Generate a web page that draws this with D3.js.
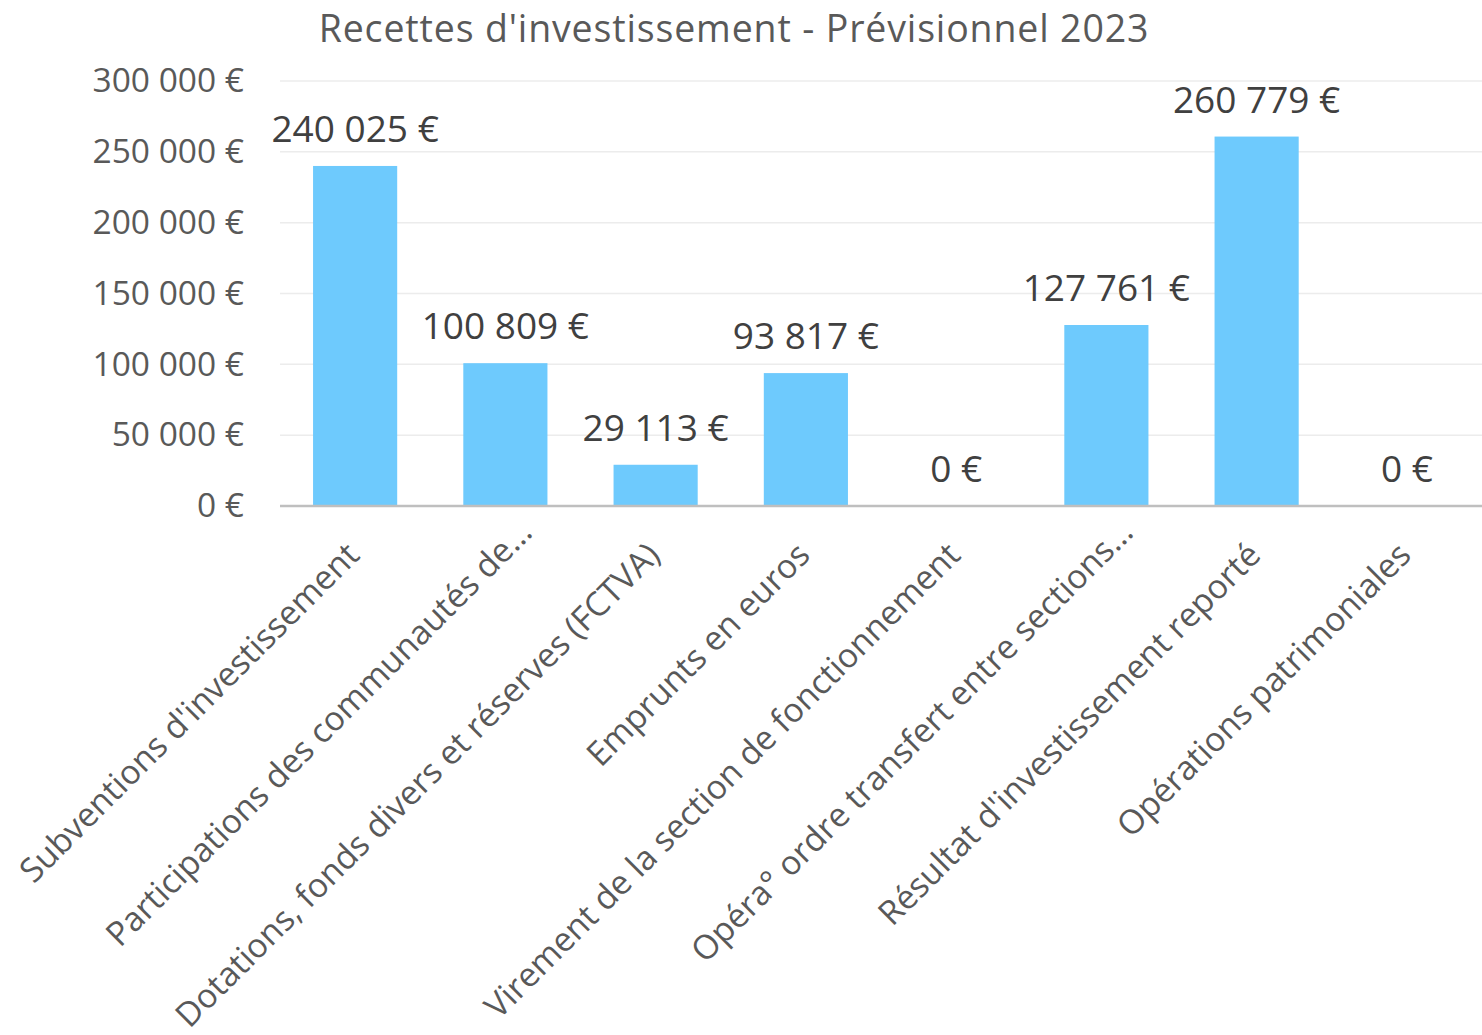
<!DOCTYPE html>
<html>
<head>
<meta charset="utf-8">
<script src="https://cdn.jsdelivr.net/npm/d3@7"></script>
<style>
  body { margin: 0; background: #fff; }
  text { font-family: "Open Sans", sans-serif; }
</style>
</head>
<body>
<div id="chart"></div>
<script>
// Chart data
var categories = [
  "Subventions d'investissement",
  "Participations des communautés de…",
  "Dotations, fonds divers et réserves (FCTVA)",
  "Emprunts en euros",
  "Virement de la section de fonctionnement",
  "Opéra° ordre transfert entre sections…",
  "Résultat d'investissement reporté",
  "Opérations patrimoniales"
];
var values = [240025, 100809, 29113, 93817, 0, 127761, 260779, 0];
var yTicks = [0, 50000, 100000, 150000, 200000, 250000, 300000];
var title = "Recettes d'investissement - Prévisionnel 2023";

// SVG area
var svgWidth = 1482;
var svgHeight = 1035;

var chartMargin = { top: 81, right: 0, bottom: 529, left: 280 };
var chartWidth = svgWidth - chartMargin.left - chartMargin.right;
var chartHeight = svgHeight - chartMargin.top - chartMargin.bottom;

var svg = d3.select("#chart")
  .append("svg")
  .attr("width", svgWidth)
  .attr("height", svgHeight);

var chartGroup = svg.append("g")
  .attr("transform", `translate(${chartMargin.left}, ${chartMargin.top})`);

// euro format with space thousands
var fmt = function(v) {
  return d3.format(",")(v).replace(/,/g, " ") + " €";
};

var xBandScale = d3.scaleBand()
  .domain(categories)
  .range([0, chartWidth])
  .paddingInner(0.44)
  .paddingOuter(0.22);

var yLinearScale = d3.scaleLinear()
  .domain([0, 300000])
  .range([chartHeight, 0]);

// gridlines
chartGroup.append("g")
  .selectAll("line")
  .data(yTicks.slice(1))
  .enter()
  .append("line")
  .attr("x1", 0)
  .attr("x2", chartWidth)
  .attr("y1", d => yLinearScale(d))
  .attr("y2", d => yLinearScale(d))
  .attr("stroke", "#ececec")
  .attr("stroke-width", 1.5);

// left axis (labels only)
var leftAxis = d3.axisLeft(yLinearScale)
  .tickValues(yTicks)
  .tickSize(0)
  .tickPadding(36)
  .tickFormat(fmt);

var yAxisGroup = chartGroup.append("g").call(leftAxis);
yAxisGroup.select(".domain").remove();
yAxisGroup.selectAll("text")
  .attr("font-size", "33.5px")
  .attr("fill", "#595959")
  .style("font-family", "'Open Sans', sans-serif");

// bars
chartGroup.selectAll(".bar")
  .data(values)
  .enter()
  .append("rect")
  .attr("class", "bar")
  .attr("x", (d, i) => xBandScale(categories[i]))
  .attr("y", d => yLinearScale(d))
  .attr("width", xBandScale.bandwidth())
  .attr("height", d => chartHeight - yLinearScale(d))
  .attr("fill", "#6ecafd");

// bottom axis line
chartGroup.append("line")
  .attr("x1", 0)
  .attr("x2", chartWidth)
  .attr("y1", chartHeight)
  .attr("y2", chartHeight)
  .attr("stroke", "#bfbfbf")
  .attr("stroke-width", 2.5);

// value labels
chartGroup.selectAll(".val")
  .data(values)
  .enter()
  .append("text")
  .attr("class", "val")
  .attr("x", (d, i) => xBandScale(categories[i]) + xBandScale.bandwidth() / 2)
  .attr("y", d => yLinearScale(d) - 24)
  .attr("text-anchor", "middle")
  .attr("font-size", "37px")
  .attr("fill", "#404040")
  .text(d => fmt(d));

// category labels, rotated (truncated ones sit a little further along)
chartGroup.selectAll(".cat")
  .data(categories)
  .enter()
  .append("text")
  .attr("class", "cat")
  .attr("transform", d => `translate(${xBandScale(d) + xBandScale.bandwidth() / 2 + 6}, ${chartHeight + 51}) rotate(-45)`)
  .attr("dx", d => d.endsWith("…") ? 32 : 0)
  .attr("text-anchor", "end")
  .attr("font-size", "33.5px")
  .attr("fill", "#595959")
  .text(d => d);

// title
svg.append("text")
  .attr("x", 734)
  .attr("y", 42)
  .attr("text-anchor", "middle")
  .attr("font-size", "37.5px")
  .attr("fill", "#595959")
  .attr("letter-spacing", "0.85px")
  .text(title);
</script>
</body>
</html>
